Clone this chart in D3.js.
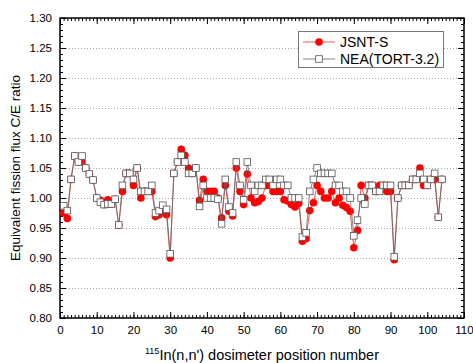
<!DOCTYPE html>
<html>
<head>
<meta charset="utf-8">
<script src="https://cdn.jsdelivr.net/npm/d3@7"></script>
<style>
  body { margin: 0; background: #fff; }
  text { font-family: "Liberation Sans", Arial, sans-serif; fill: #000; }
</style>
</head>
<body>
<div id="chart"></div>
<script>
// position numbers 1..104
const positions = d3.range(1, 105);

const jsntValues = [
  0.975, 0.966, 1.031, 1.070, 1.060, 1.060, 1.050, 1.040, 1.030, 1.000,
  0.996, 0.989, 0.997, 0.990, 0.998, 0.955, 1.011, 1.041, 1.041, 1.021,
  1.050, 1.000, 1.011, 1.011, 1.011, 0.969, 0.972, 0.980, 0.972, 0.900,
  1.041, 1.060, 1.081, 1.071, 1.050, 1.041, 1.050, 0.996, 1.031, 1.011,
  1.011, 1.011, 1.000, 0.967, 1.021, 0.978, 0.970, 1.050, 1.011, 0.989,
  1.040, 1.000, 0.992, 0.994, 1.000, 1.021, 1.021, 1.011, 1.011, 1.011,
  0.997, 0.995, 0.989, 0.985, 0.991, 0.928, 0.932, 0.979, 0.992, 1.021,
  1.011, 1.000, 1.000, 1.011, 0.992, 1.000, 0.988, 0.984, 0.978, 0.917,
  0.946, 1.021, 1.000, 1.021, 1.021, 1.011, 1.021, 1.021, 1.011, 1.011,
  0.897, 1.000, 1.021, 1.021, 1.021, 1.031, 1.031, 1.050, 1.021, 1.021,
  1.031, 1.031, 0.968, 1.031
];

const neaValues = [
  0.987, 0.979, 1.031, 1.070, 1.060, 1.070, 1.050, 1.040, 1.030, 1.000,
  0.993, 0.989, 0.990, 0.990, 0.998, 0.955, 1.021, 1.041, 1.041, 1.031,
  1.050, 1.011, 1.011, 1.011, 1.021, 0.975, 0.979, 0.988, 0.981, 0.907,
  1.041, 1.060, 1.071, 1.060, 1.041, 1.041, 1.050, 0.986, 1.021, 1.000,
  1.000, 1.000, 0.998, 0.957, 1.031, 0.985, 0.975, 1.060, 1.021, 0.997,
  1.060, 1.021, 1.011, 1.021, 1.021, 1.031, 1.031, 1.021, 1.031, 1.031,
  1.021, 1.021, 1.000, 1.000, 1.000, 0.935, 0.942, 1.011, 1.031, 1.050,
  1.041, 1.041, 1.041, 1.041, 1.021, 1.021, 1.011, 1.011, 1.000, 0.937,
  0.963, 1.000, 0.990, 1.021, 1.021, 1.011, 1.011, 1.021, 1.021, 1.021,
  0.902, 1.000, 1.021, 1.021, 1.021, 1.031, 1.031, 1.041, 1.031, 1.021,
  1.031, 1.041, 0.968, 1.031
];

const xTicks = [0, 10, 20, 30, 40, 50, 60, 70, 80, 90, 100, 110];
const yTicks = [0.80, 0.85, 0.90, 0.95, 1.00, 1.05, 1.10, 1.15, 1.20, 1.25, 1.30];
const seriesNames = ['JSNT-S', 'NEA(TORT-3.2)'];

const width = 473;
const height = 363;
const plotLeft = 60, plotRight = 464, plotTop = 18, plotBottom = 318;

const svg = d3.select('#chart').append('svg')
  .attr('width', width)
  .attr('height', height);

const x = d3.scaleLinear().domain([0, 110]).range([plotLeft, plotRight]);
const y = d3.scaleLinear().domain([0.8, 1.3]).range([plotBottom, plotTop]);

// dotted grid lines
svg.append('g')
  .selectAll('line')
  .data(yTicks.slice(1, -1))
  .enter()
  .append('line')
  .attr('x1', plotLeft)
  .attr('x2', plotRight)
  .attr('y1', d => y(d) + 0.5)
  .attr('y2', d => y(d) + 0.5)
  .attr('stroke', '#aaa')
  .attr('stroke-width', 1)
  .attr('stroke-dasharray', '1,2');

// axes: major ticks inward, minor ticks inward
const minorX = d3.range(0, 111, 1);
const minorY = d3.range(0, 51).map(i => 0.8 + i * 0.01);

function styleAxis(g) {
  g.selectAll('.domain').remove();
  g.selectAll('line').attr('stroke', '#000').attr('stroke-width', 1);
  g.selectAll('text').attr('font-size', 11.5).attr('font-family', '"Liberation Sans", Arial, sans-serif');
}

// bottom
svg.append('g').attr('transform', `translate(0,${plotBottom})`)
  .call(d3.axisBottom(x).tickValues(minorX).tickSize(-3).tickFormat(''))
  .call(styleAxis);
svg.append('g').attr('transform', `translate(0,${plotBottom})`)
  .call(d3.axisBottom(x).tickValues(xTicks).tickSizeInner(-6).tickSizeOuter(0).tickPadding(8).tickFormat(d3.format('d')))
  .call(styleAxis);
// top
svg.append('g').attr('transform', `translate(0,${plotTop})`)
  .call(d3.axisTop(x).tickValues(minorX).tickSize(-3).tickFormat(''))
  .call(styleAxis);
svg.append('g').attr('transform', `translate(0,${plotTop})`)
  .call(d3.axisTop(x).tickValues(xTicks).tickSize(-6).tickFormat(''))
  .call(styleAxis);
// left
svg.append('g').attr('transform', `translate(${plotLeft},0)`)
  .call(d3.axisLeft(y).tickValues(minorY).tickSize(-3).tickFormat(''))
  .call(styleAxis);
svg.append('g').attr('transform', `translate(${plotLeft},0)`)
  .call(d3.axisLeft(y).tickValues(yTicks).tickSizeInner(-6).tickSizeOuter(0).tickPadding(8).tickFormat(d3.format('.2f')))
  .call(styleAxis);
// right
svg.append('g').attr('transform', `translate(${plotRight},0)`)
  .call(d3.axisRight(y).tickValues(minorY).tickSize(-3).tickFormat(''))
  .call(styleAxis);
svg.append('g').attr('transform', `translate(${plotRight},0)`)
  .call(d3.axisRight(y).tickValues(yTicks).tickSize(-6).tickFormat(''))
  .call(styleAxis);

// frame
svg.append('rect')
  .attr('x', plotLeft)
  .attr('y', plotTop)
  .attr('width', plotRight - plotLeft)
  .attr('height', plotBottom - plotTop)
  .attr('fill', 'none')
  .attr('stroke', '#000')
  .attr('stroke-width', 1.5);

const line = d3.line()
  .x((d, i) => x(positions[i]))
  .y(d => y(d));

// JSNT-S
svg.append('path')
  .attr('d', line(jsntValues))
  .attr('fill', 'none')
  .attr('stroke', '#e03030')
  .attr('stroke-width', 0.8);
svg.append('g')
  .selectAll('circle')
  .data(jsntValues)
  .enter()
  .append('circle')
  .attr('cx', (d, i) => x(positions[i]))
  .attr('cy', d => y(d))
  .attr('r', 3.8)
  .attr('fill', '#ff0000');

// NEA(TORT-3.2)
svg.append('path')
  .attr('d', line(neaValues))
  .attr('fill', 'none')
  .attr('stroke', '#666')
  .attr('stroke-width', 0.8);
svg.append('g')
  .selectAll('rect')
  .data(neaValues)
  .enter()
  .append('rect')
  .attr('x', (d, i) => x(positions[i]) - 3.3)
  .attr('y', d => y(d) - 3.3)
  .attr('width', 6.6)
  .attr('height', 6.6)
  .attr('fill', '#fff')
  .attr('stroke', '#555')
  .attr('stroke-width', 0.8);

// legend
const legend = svg.append('g');
legend.append('rect')
  .attr('x', 298.5)
  .attr('y', 31.5)
  .attr('width', 145)
  .attr('height', 36)
  .attr('fill', '#fff')
  .attr('stroke', '#777')
  .attr('stroke-width', 1);

legend.append('line')
  .attr('x1', 303).attr('x2', 335).attr('y1', 42).attr('y2', 42)
  .attr('stroke', '#e03030').attr('stroke-width', 0.8);
legend.append('circle')
  .attr('cx', 319).attr('cy', 42).attr('r', 3.8).attr('fill', '#ff0000');
legend.append('text')
  .attr('x', 340).attr('y', 47)
  .attr('font-size', 14)
  .text(seriesNames[0]);

legend.append('line')
  .attr('x1', 303).attr('x2', 335).attr('y1', 59).attr('y2', 59)
  .attr('stroke', '#666').attr('stroke-width', 0.8);
legend.append('rect')
  .attr('x', 315.7).attr('y', 55.7).attr('width', 6.6).attr('height', 6.6)
  .attr('fill', '#fff').attr('stroke', '#555').attr('stroke-width', 0.8);
legend.append('text')
  .attr('x', 340).attr('y', 64)
  .attr('font-size', 14)
  .text(seriesNames[1]);

// axis titles
svg.append('text')
  .attr('transform', `translate(20,${(plotTop + plotBottom) / 2}) rotate(-90)`)
  .attr('text-anchor', 'middle')
  .attr('font-size', 13.5)
  .text('Equivalent fission flux C/E ratio');

const xTitle = svg.append('text')
  .attr('x', (plotLeft + plotRight) / 2)
  .attr('y', 360)
  .attr('text-anchor', 'middle')
  .attr('font-size', 14.5);
xTitle.append('tspan')
  .attr('font-size', 9)
  .attr('dy', -6)
  .text('115');
xTitle.append('tspan')
  .attr('dy', 6)
  .text("In(n,n') dosimeter position number");
</script>
</body>
</html>
